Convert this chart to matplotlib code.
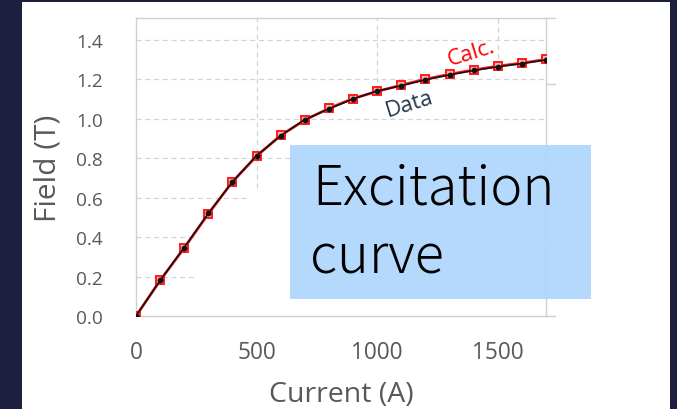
import matplotlib
matplotlib.use("Agg")
import matplotlib.pyplot as plt
from matplotlib.patches import Rectangle
import numpy as np

# ---- data ----
current = [0, 100, 200, 300, 400, 500, 600, 700, 800, 900,
           1000, 1100, 1200, 1300, 1400, 1500, 1600, 1700]
field_data = [0.0, 0.180, 0.347, 0.520, 0.680, 0.813, 0.914, 0.995, 1.050, 1.100,
              1.140, 1.167, 1.197, 1.222, 1.244, 1.263, 1.279, 1.298]
field_calc = [0.0, 0.180, 0.345, 0.518, 0.680, 0.810, 0.915, 0.993, 1.052, 1.102,
              1.138, 1.170, 1.200, 1.225, 1.247, 1.266, 1.282, 1.300]
x_ticks = [0, 500, 1000, 1500]
y_ticks = [0.0, 0.2, 0.4, 0.6, 0.8, 1.0, 1.2, 1.4]
x_label = "Current (A)"
y_label = "Field (T)"
calc_label = "Calc."
data_label = "Data"
box_lines = ["Excitation", "curve"]

# visible extent of the (partly covered) dashed grid in the reference
grid_h_levels = [0.2, 0.4, 0.6, 0.8, 1.0, 1.2, 1.4]
grid_h_end = [241, 257, 464, 1700, 1700, 1700, 1700]
grid_v_levels = [500, 1000, 1500]
grid_v_bottom = [0.65, 1.14, 1.26]

W, H = 677, 410
fig = plt.figure(figsize=(W / 100, H / 100), dpi=100, facecolor="#1c1f3d")

def px(x0, y0, x1, y1):
    """figure-fraction rectangle from pixel box (top-left origin)"""
    return (x0 / W, 1 - y1 / H, (x1 - x0) / W, (y1 - y0) / H)

# white panel
l, b, w, h = px(22, 3, 670, 410)
fig.patches.append(Rectangle((l, b), w, h, transform=fig.transFigure,
                             facecolor="white", edgecolor="none", zorder=-5))

ax_l, ax_t, ax_r, ax_b = 136, 19, 546, 317
ax = fig.add_axes([ax_l / W, 1 - ax_b / H, (ax_r - ax_l) / W, (ax_b - ax_t) / H])
ax.set_zorder(1)
ax.set_facecolor("none")
ax.set_xlim(0, 1700)
ax.set_ylim(0, 1.51)

for s in ax.spines.values():
    s.set_color("#d0d0d0")
    s.set_linewidth(1.0)

grid_kw = dict(colors="#d4d4d4", lw=0.9, linestyles=(0, (4, 3)), zorder=1)
ax.hlines(grid_h_levels, 0, grid_h_end, **grid_kw)
ax.vlines(grid_v_levels, grid_v_bottom, 1.51, **grid_kw)

ax.set_xticks(x_ticks)
ax.set_yticks(y_ticks)
ax.set_yticklabels([f"{v:.1f}" for v in y_ticks])
ax.tick_params(axis="x", length=0, pad=17, labelsize=16.3, labelcolor="#595959")
ax.tick_params(axis="y", length=0, pad=24, labelsize=13.7, labelcolor="#595959")
for t in ax.get_xticklabels() + ax.get_yticklabels():
    t.set_fontfamily("Open Sans")

ax.set_xlabel(x_label, fontsize=20.5, color="#595959", fontfamily="Open Sans")
ax.set_ylabel(y_label, fontsize=21.5, color="#595959", fontfamily="Open Sans")
ax.xaxis.set_label_coords(0.5, -0.215)
ax.yaxis.set_label_coords(-0.18, 0.5)

# extension lines of frame on the right (decor)
for yf in [0.0, 1.0, 0.778, 0.560, 0.503, 0.252]:
    ax.plot([1.0, 1.022], [yf, yf], transform=ax.transAxes, color="#d0d0d0",
            lw=1.0, clip_on=False, zorder=2)

# series
ax.plot(current, field_calc, color="#ff1a1a", lw=2.0, zorder=3,
        marker="s", ms=5.6, mfc="#ffb3b3", mec="#ff1a1a", mew=1.4)
ax.plot(current, field_data, color="#111111", lw=1.2, zorder=4,
        marker="o", ms=3.2, mfc="#111111", mec="#111111")

ax.text(1390, 1.336, calc_label, color="#ff0000", fontsize=16, rotation=17,
        ha="center", va="center", fontfamily="Open Sans", zorder=5)
ax.text(1136, 1.078, data_label, color="#22384e", fontsize=16, rotation=17,
        ha="center", va="center", fontfamily="Open Sans", zorder=5)

# blue box with text
l, b, w, h = px(290, 146, 591, 300)
fig.patches.append(Rectangle((l, b), w, h, transform=fig.transFigure,
                             facecolor="#aed6fc", alpha=0.92, edgecolor="none", zorder=10))
fig.text(312 / W, 1 - 205 / H, box_lines[0], fontsize=39, color="black",
         ha="left", va="baseline", fontfamily="Noto Sans CJK JP", fontweight="light", zorder=11)
fig.text(310 / W, 1 - 273 / H, box_lines[1], fontsize=39, color="black",
         ha="left", va="baseline", fontfamily="Noto Sans CJK JP", fontweight="light", zorder=11)

fig.savefig("out.png", dpi=100, facecolor=fig.get_facecolor())
